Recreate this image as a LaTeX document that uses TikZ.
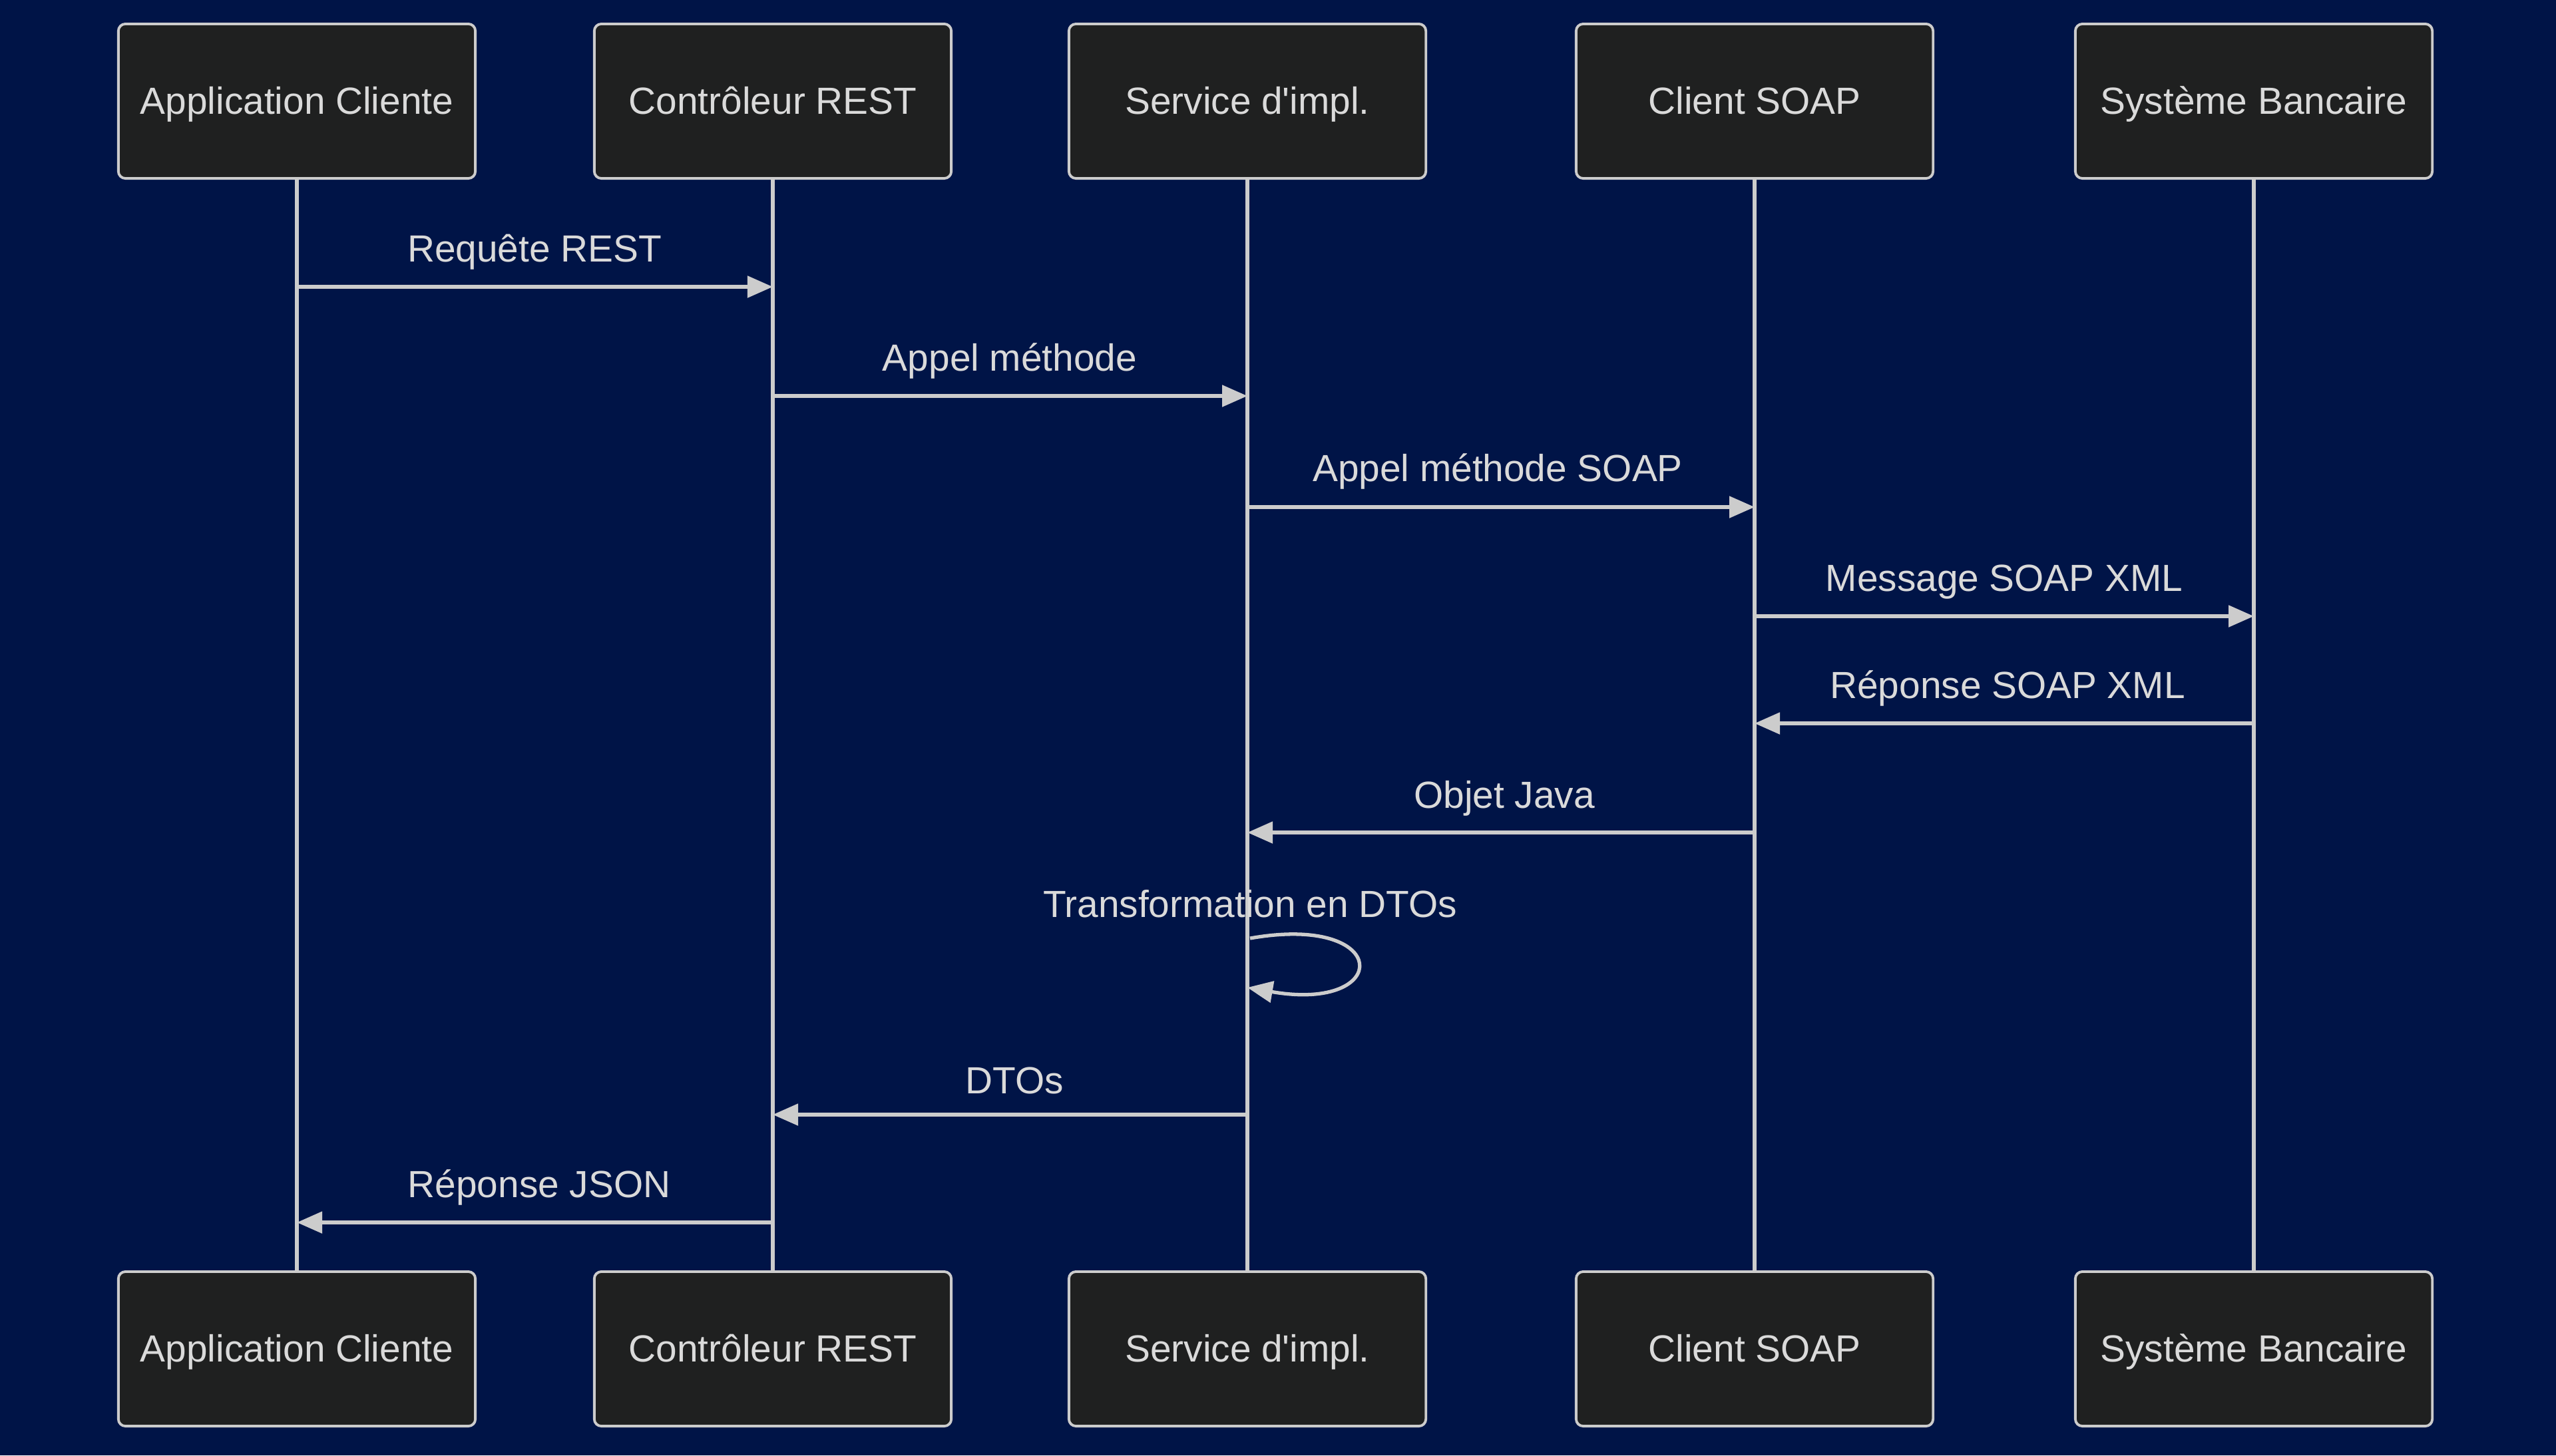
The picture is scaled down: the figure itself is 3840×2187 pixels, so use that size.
\documentclass[tikz,border=0pt]{standalone}
\usepackage{fontspec}
\setmainfont{Liberation Sans}
\usetikzlibrary{arrows.meta}
\definecolor{bgc}{HTML}{001447}
\definecolor{boxfill}{HTML}{1F2020}
\definecolor{linec}{HTML}{CCCCCC}
\definecolor{txtc}{HTML}{DADADA}
\begin{document}
\begin{tikzpicture}[x=0.01cm,y=-0.01cm,
  actor/.style={draw=linec, line width=1.1pt, fill=boxfill, rounded corners=3pt,
    minimum width=5.36cm, minimum height=2.32cm, text=txtc, inner sep=0pt,
    text height=0.72em+4pt, text depth=0pt,
    font=\fontsize{16.15}{19.4}\selectfont},
  life/.style={draw=linec, line width=1.7pt},
  msg/.style={draw=linec, line width=1.5pt, -{Triangle[length=0.38cm,width=0.32cm]}},
  lbl/.style={text=txtc, inner sep=0pt, text height=0.72em+4pt, text depth=0pt,
    font=\fontsize{16.15}{19.4}\selectfont}]
\fill[bgc] (0,0) rectangle (3840,2187);
\useasboundingbox (0,0) rectangle (3840,2187);
% top actors
\node[actor] (a1) at (446,152) {Application Cliente};
\node[actor] (a2) at (1161,152) {Contrôleur REST};
\node[actor] (a3) at (1874,152) {Service d\textquotesingle impl.};
\node[actor] (a4) at (2636,152) {Client SOAP};
\node[actor] (a5) at (3386,152) {Système Bancaire};
% bottom actors
\node[actor] (b1) at (446,2027) {Application Cliente};
\node[actor] (b2) at (1161,2027) {Contrôleur REST};
\node[actor] (b3) at (1874,2027) {Service d\textquotesingle impl.};
\node[actor] (b4) at (2636,2027) {Client SOAP};
\node[actor] (b5) at (3386,2027) {Système Bancaire};
% lifelines
\draw[life] (a1.south) -- (b1.north);
\draw[life] (a2.south) -- (b2.north);
\draw[life] (a3.south) -- (b3.north);
\draw[life] (a4.south) -- (b4.north);
\draw[life] (a5.south) -- (b5.north);
% message anchor coordinates
\coordinate (m1s) at (446,431);  \coordinate (m1e) at (1161,431);
\coordinate (m2s) at (1161,595); \coordinate (m2e) at (1874,595);
\coordinate (m3s) at (1874,762); \coordinate (m3e) at (2636,762);
\coordinate (m4s) at (2636,926); \coordinate (m4e) at (3386,926);
\coordinate (m5s) at (3386,1087); \coordinate (m5e) at (2636,1087);
\coordinate (m6s) at (2636,1251); \coordinate (m6e) at (1874,1251);
\coordinate (m7s) at (1878,1410); \coordinate (m7e) at (1874,1484);
\coordinate (m8s) at (1874,1675); \coordinate (m8e) at (1161,1675);
\coordinate (m9s) at (1161,1837); \coordinate (m9e) at (446,1837);
\draw[msg] (m1s) -- (m1e);
\draw[msg] (m2s) -- (m2e);
\draw[msg] (m3s) -- (m3e);
\draw[msg] (m4s) -- (m4e);
\draw[msg] (m5s) -- (m5e);
\draw[msg] (m6s) -- (m6e);
\draw[msg] (m7s) .. controls (2092,1372) and (2092,1522) .. (m7e);
\draw[msg] (m8s) -- (m8e);
\draw[msg] (m9s) -- (m9e);
% labels
\node[lbl] (l1) at (803,374) {Requête REST};
\node[lbl] (l2) at (1517,538) {Appel méthode};
\node[lbl] (l3) at (2250,704) {Appel méthode SOAP};
\node[lbl] (l4) at (3011,869) {Message SOAP XML};
\node[lbl] (l5) at (3016,1030) {Réponse SOAP XML};
\node[lbl] (l6) at (2260,1195) {Objet Java};
\node[lbl] (l7) at (1878,1359) {Transformation en DTOs};
\node[lbl] (l8) at (1524,1624) {DTOs};
\node[lbl] (l9) at (810,1780) {Réponse JSON};
\end{tikzpicture}
\end{document}
